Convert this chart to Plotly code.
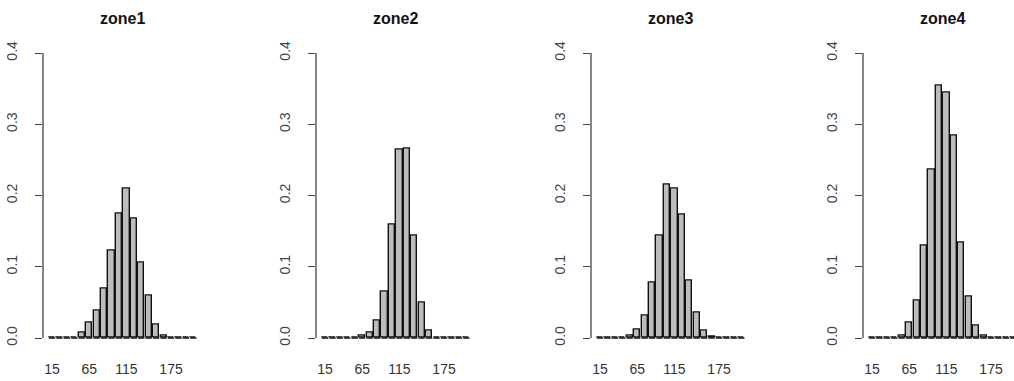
import plotly.graph_objects as go

# ---- data ----
categories = [15, 25, 35, 45, 55, 65, 75, 85, 95, 105, 115, 125, 135, 145, 155, 165, 175, 185, 195, 205]
zone1 = [0, 0, 0, 0.001, 0.008, 0.021, 0.039, 0.070, 0.122, 0.174, 0.209, 0.168, 0.106, 0.060, 0.019, 0.003, 0.0005, 0, 0, 0]
zone2 = [0, 0, 0, 0, 0.001, 0.003, 0.008, 0.024, 0.065, 0.159, 0.265, 0.266, 0.144, 0.049, 0.010, 0.001, 0, 0, 0, 0]
zone3 = [0, 0, 0, 0, 0.004, 0.012, 0.032, 0.078, 0.144, 0.216, 0.210, 0.173, 0.081, 0.036, 0.010, 0.002, 0, 0, 0, 0]
zone4 = [0, 0, 0, 0.001, 0.004, 0.021, 0.053, 0.129, 0.237, 0.354, 0.345, 0.284, 0.134, 0.058, 0.017, 0.004, 0, 0, 0, 0]
zone_names = ["zone1", "zone2", "zone3", "zone4"]
zone_values = [zone1, zone2, zone3, zone4]
x_tick_vals = [15, 65, 115, 175]
x_tick_text = ["15", "65", "115", "175"]
y_tick_vals = [0, 0.1, 0.2, 0.3, 0.4]
y_tick_text = ["0.0", "0.1", "0.2", "0.3", "0.4"]

# ---- layout constants ----
W, H = 1014, 381
axis_left_px = [43, 316, 591, 863]
px_per_unit = 0.744
x_start = 2.9
full_plot_px = 159.4
y_top_px, y_bot_px = 41.6, 349.4
title_y_px = 19
bar_w = 10 / 1.2
FONT = "Liberation Sans, Arial, Helvetica, sans-serif"

fig = go.Figure()
layout = {}
shapes = []
annotations = []

for i, (name, vals) in enumerate(zip(zone_names, zone_values)):
    n = "" if i == 0 else str(i + 1)
    xa, ya = "x" + n, "y" + n
    fig.add_trace(go.Bar(
        x=categories, y=vals, width=bar_w,
        marker=dict(color="#bdbdbd", line=dict(color="#111111", width=1.4)),
        xaxis=xa, yaxis=ya, showlegend=False, hoverinfo="x+y",
    ))
    # bottom edges of the bars (zero-height bars show as a dashed baseline)
    sx, sy = [], []
    for c in categories:
        sx += [c - bar_w / 2, c + bar_w / 2, None]
        sy += [0, 0, None]
    fig.add_trace(go.Scatter(
        x=sx, y=sy, mode="lines", line=dict(color="#111111", width=1.4),
        xaxis=xa, yaxis=ya, showlegend=False, hoverinfo="skip",
    ))
    left = axis_left_px[i]
    right = min(left + full_plot_px, W)
    x_end = x_start + (right - left) / px_per_unit
    layout["xaxis" + n] = dict(
        domain=[left / W, right / W], range=[x_start, x_end], anchor=ya,
        tickmode="array", tickvals=x_tick_vals, ticktext=x_tick_text,
        showline=False, showgrid=False, zeroline=False, ticks="",
        ticklabelstandoff=10,
        tickfont=dict(family=FONT, size=14, color="#333333"),
        fixedrange=True,
    )
    layout["yaxis" + n] = dict(
        domain=[1 - y_bot_px / H, 1 - y_top_px / H], range=[-0.016, 0.416], anchor=xa,
        tickmode="array", tickvals=y_tick_vals, ticktext=y_tick_text,
        tickangle=-90, ticks="outside", ticklen=7, tickwidth=1.3, tickcolor="#444444",
        ticklabelstandoff=12,
        showline=False, showgrid=False, zeroline=False,
        tickfont=dict(family=FONT, size=14, color="#444444"),
        fixedrange=True,
    )
    shapes.append(dict(
        type="line", xref=xa + " domain", yref=ya, x0=0, x1=0, y0=0, y1=0.4,
        line=dict(color="#444444", width=1.3),
    ))
    annotations.append(dict(
        text="<b>" + name + "</b>", xref="paper", yref="paper",
        x=(left + full_plot_px / 2) / W, y=1 - title_y_px / H,
        xanchor="center", yanchor="middle", showarrow=False,
        font=dict(family=FONT, size=16, color="#111111"),
    ))

fig.update_layout(
    width=W, height=H,
    margin=dict(l=0, r=0, t=0, b=0),
    paper_bgcolor="white", plot_bgcolor="white",
    shapes=shapes, annotations=annotations,
    bargap=0, barmode="overlay",
    **layout,
)

fig.write_html(
    "out.html",
    config={"displayModeBar": False},
    post_script="document.body.style.margin='0';document.body.style.overflow='hidden';",
)
